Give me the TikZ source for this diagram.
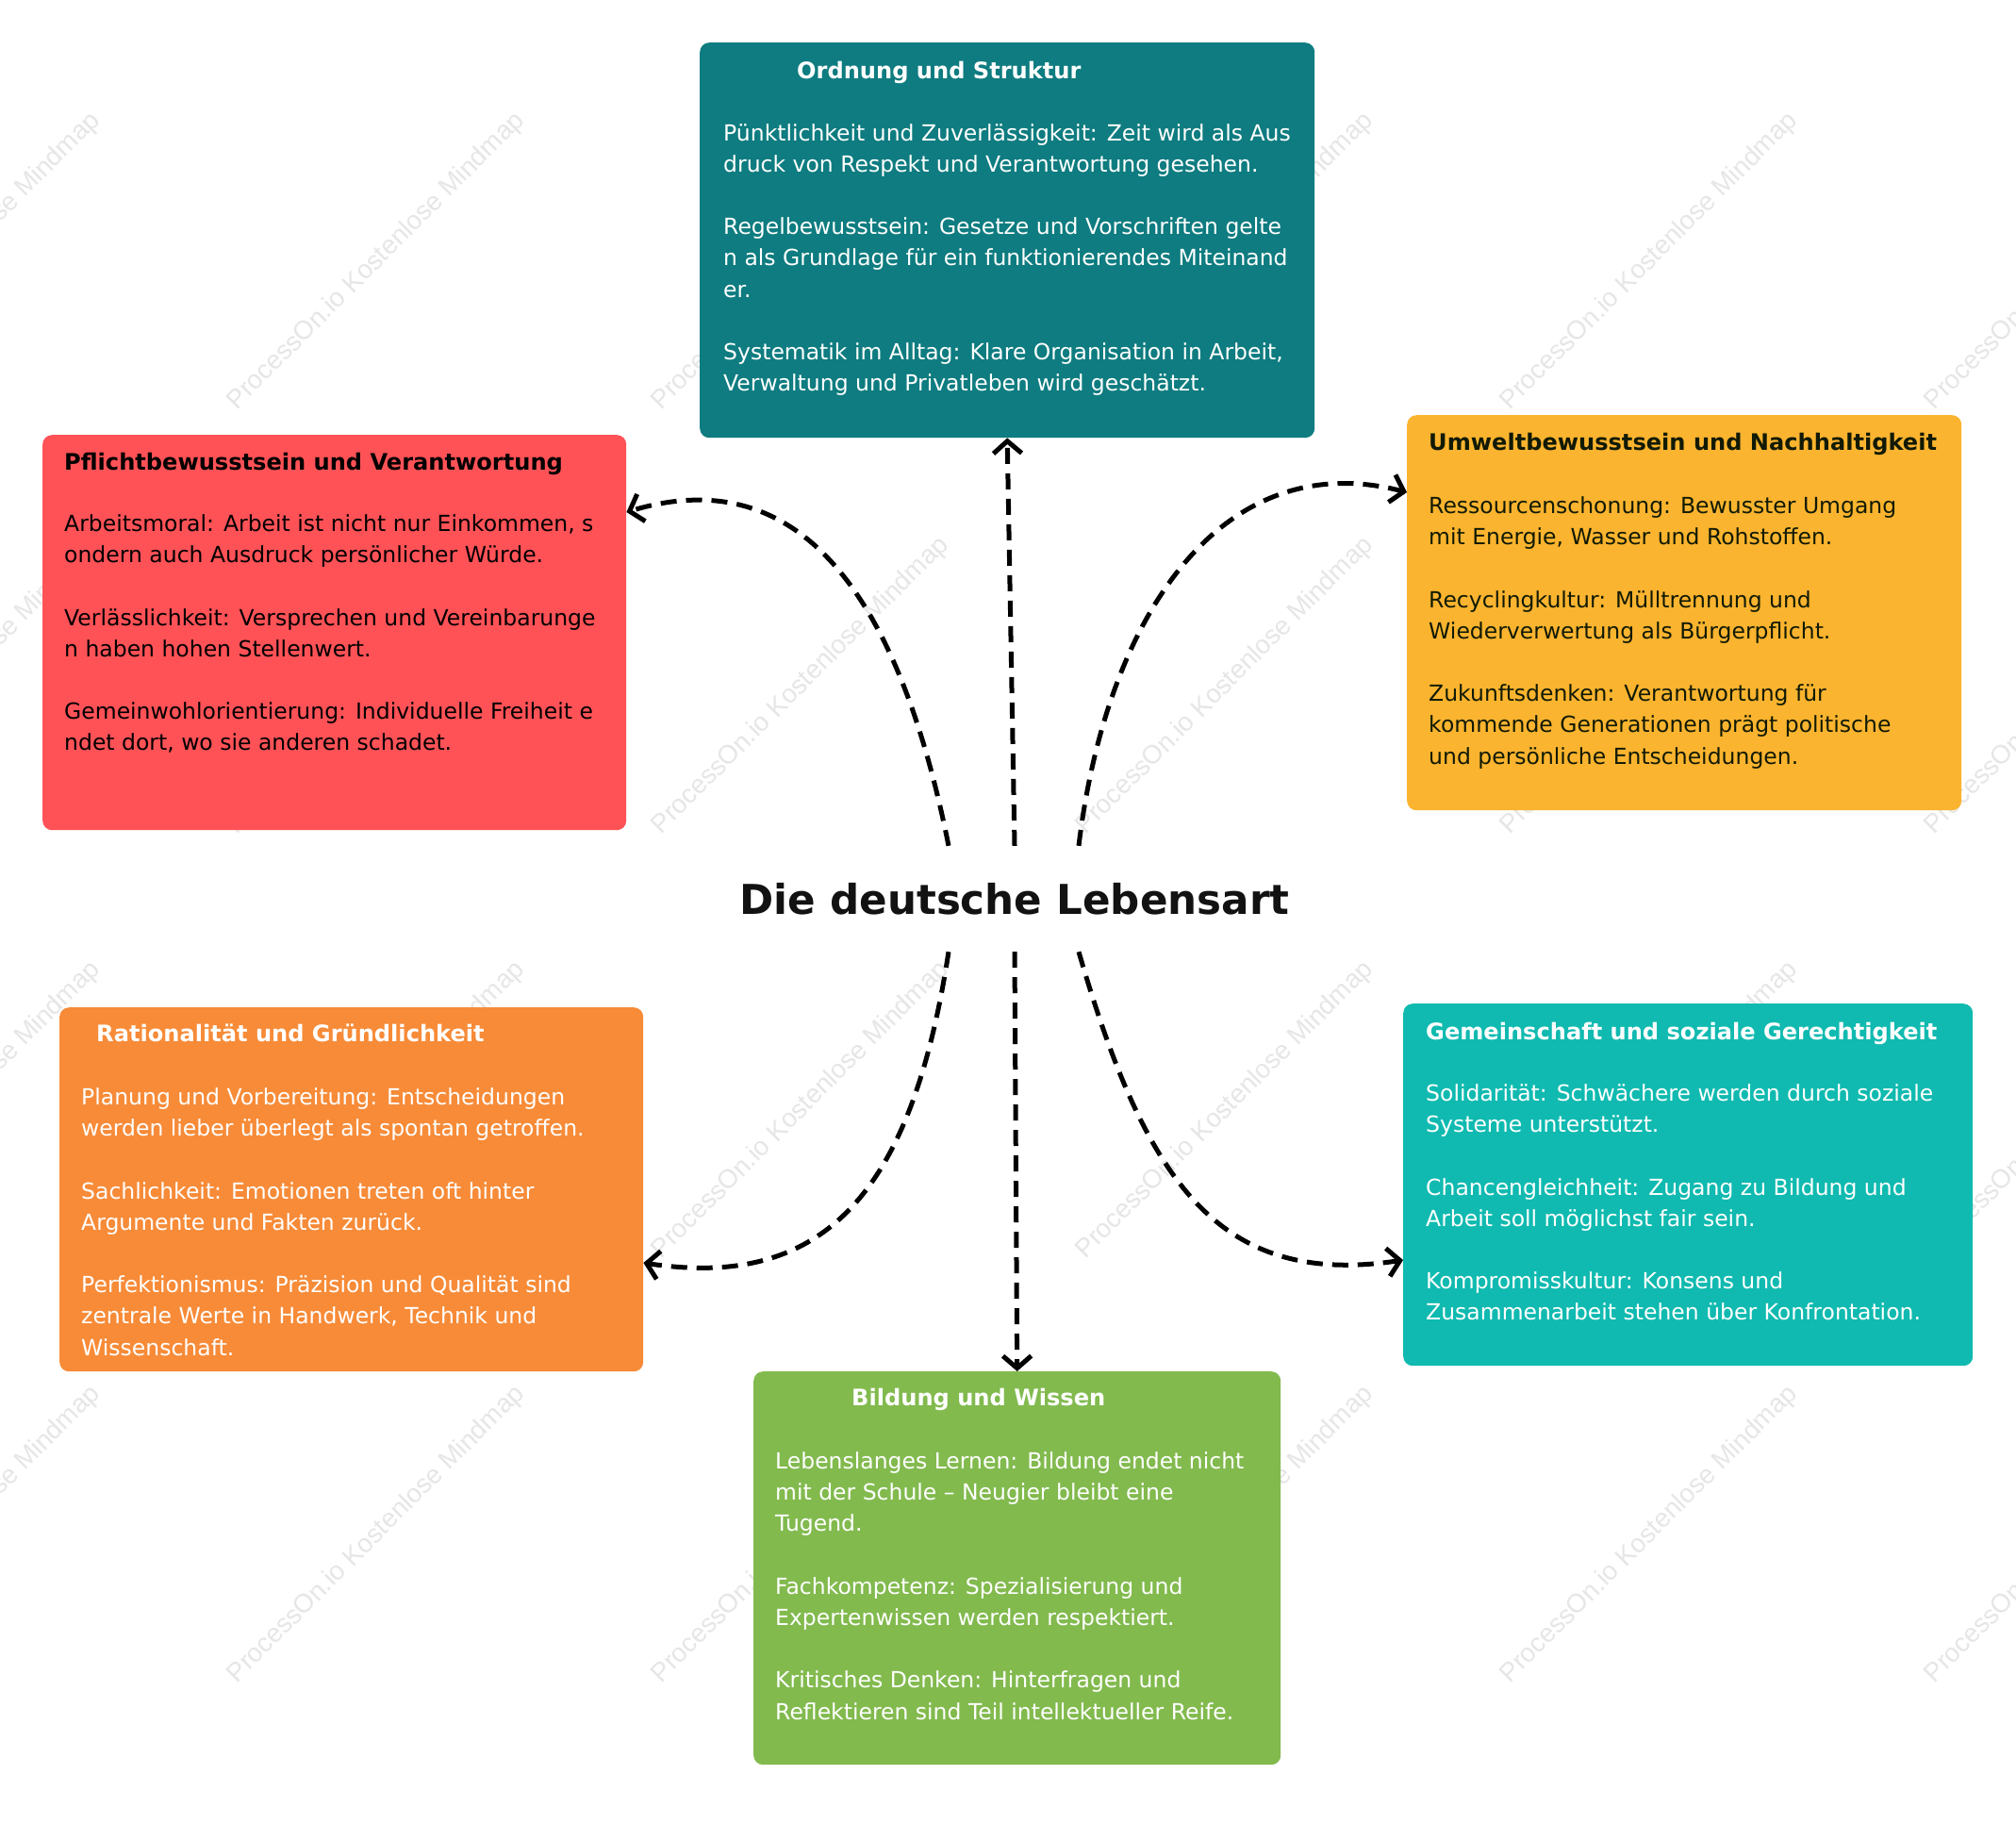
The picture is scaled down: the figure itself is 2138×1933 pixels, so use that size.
\documentclass[tikz,border=0pt]{standalone}
\usepackage{fontspec}
\setmainfont{DejaVu Sans}
\newfontfamily\wmfont{Liberation Sans}
\usetikzlibrary{arrows.meta,calc}
\definecolor{cOrd}{HTML}{0E7C80}
\definecolor{cRed}{HTML}{FF5257}
\definecolor{cYel}{HTML}{FBB42F}
\definecolor{cOra}{HTML}{F78B38}
\definecolor{cTur}{HTML}{10BAB0}
\definecolor{cGre}{HTML}{82BA4E}
\definecolor{cDark}{HTML}{111A05}
\definecolor{cWm}{HTML}{E6E6E6}
\newcommand\mmbody[1]{\parbox[t]{700pt}{\raggedright\fontsize{23.5}{33.2}\selectfont #1}}
\begin{document}
\begin{tikzpicture}[x=1pt,y=-1pt,
  box/.style={rounded corners=10pt, inner sep=0pt, anchor=north west, draw=none},
  ttl/.style={anchor=base west, inner sep=0pt, font=\fontsize{24.1}{28}\selectfont\bfseries},
  bdy/.style={anchor=base west, inner sep=0pt},
  conn/.style={line width=5pt, dash pattern=on 17pt off 10pt, -{Straight Barb[length=13pt,width=30pt]}},
  wm/.style={rotate=45, inner sep=0pt, text=cWm, font=\wmfont\fontsize{27.7}{30}\selectfont}]
\useasboundingbox (0,0) rectangle (2138,1933);
\fill[white] (0,0) rectangle (2138,1933);
% watermark grid
\foreach \k in {0,...,5}{
  \foreach \m in {0,...,3}{
    \node[wm] (wm-\k-\m) at ({-51+450*\k},{277+450*\m}) {ProcessOn.io Kostenlose Mindmap};
  }
}
% boxes
\node[box, fill=cOrd, minimum width=652pt, minimum height=419pt] (ord) at (742,45) {};
\node[box, fill=cRed, minimum width=619pt, minimum height=419pt] (red) at (45,461) {};
\node[box, fill=cYel, minimum width=588pt, minimum height=419pt] (yel) at (1492,440) {};
\node[box, fill=cOra, minimum width=619pt, minimum height=386pt] (ora) at (63,1068) {};
\node[box, fill=cTur, minimum width=604pt, minimum height=384pt] (tur) at (1488,1064) {};
\node[box, fill=cGre, minimum width=559pt, minimum height=417pt] (gre) at (799,1454) {};
% titles
\node[ttl, text=white] (ordT) at (845,83) {Ordnung und Struktur};
\node[ttl, text=black] (redT) at (68,498) {Pflichtbewusstsein und Verantwortung};
\node[ttl, text=cDark] (yelT) at (1515,477.5) {Umweltbewusstsein und Nachhaltigkeit};
\node[ttl, text=white] (oraT) at (102,1104.5) {Rationalität und Gründlichkeit};
\node[ttl, text=white] (turT) at (1512,1102) {Gemeinschaft und soziale Gerechtigkeit};
\node[ttl, text=white] (greT) at (903,1490.5) {Bildung und Wissen};
% bodies
\node[bdy, text=white] (ordB) at (767,149) {\mmbody{Pünktlichkeit und Zuverlässigkeit: Zeit wird als Aus\\druck von Respekt und Verantwortung gesehen.\\[33.2pt]Regelbewusstsein: Gesetze und Vorschriften gelte\\n als Grundlage für ein funktionierendes Miteinand\\er.\\[33.2pt]Systematik im Alltag: Klare Organisation in Arbeit,\\Verwaltung und Privatleben wird geschätzt.}};
\node[bdy, text=black] (redB) at (68,563.5) {\mmbody{Arbeitsmoral: Arbeit ist nicht nur Einkommen, s\\ondern auch Ausdruck persönlicher Würde.\\[33.2pt]Verlässlichkeit: Versprechen und Vereinbarunge\\n haben hohen Stellenwert.\\[33.2pt]Gemeinwohlorientierung: Individuelle Freiheit e\\ndet dort, wo sie anderen schadet.}};
\node[bdy, text=cDark] (yelB) at (1515,544.5) {\mmbody{Ressourcenschonung: Bewusster Umgang\\mit Energie, Wasser und Rohstoffen.\\[33.2pt]Recyclingkultur: Mülltrennung und\\Wiederverwertung als Bürgerpflicht.\\[33.2pt]Zukunftsdenken: Verantwortung für\\kommende Generationen prägt politische\\und persönliche Entscheidungen.}};
\node[bdy, text=white] (oraB) at (86,1171.5) {\mmbody{Planung und Vorbereitung: Entscheidungen\\werden lieber überlegt als spontan getroffen.\\[33.2pt]Sachlichkeit: Emotionen treten oft hinter\\Argumente und Fakten zurück.\\[33.2pt]Perfektionismus: Präzision und Qualität sind\\zentrale Werte in Handwerk, Technik und\\Wissenschaft.}};
\node[bdy, text=white] (turB) at (1512,1167.5) {\mmbody{Solidarität: Schwächere werden durch soziale\\Systeme unterstützt.\\[33.2pt]Chancengleichheit: Zugang zu Bildung und\\Arbeit soll möglichst fair sein.\\[33.2pt]Kompromisskultur: Konsens und\\Zusammenarbeit stehen über Konfrontation.}};
\node[bdy, text=white] (greB) at (822,1557.5) {\mmbody{Lebenslanges Lernen: Bildung endet nicht\\mit der Schule – Neugier bleibt eine\\Tugend.\\[33.2pt]Fachkompetenz: Spezialisierung und\\Expertenwissen werden respektiert.\\[33.2pt]Kritisches Denken: Hinterfragen und\\Reflektieren sind Teil intellektueller Reife.}};
% centre
\node[inner sep=0pt, minimum height=112pt, text=black!93, font=\fontsize{43.6}{50}\selectfont\bfseries] (ctr) at (1076,953) {Die deutsche Lebensart};
% connectors
\draw[conn] ([xshift=-70pt]ctr.north) .. controls +(-50,-250) and +(192,-58) .. ($(red.north east)+(0,82)$);
\draw[conn] (ctr.north) -- (ord.south);
\draw[conn] ([xshift=68pt]ctr.north) .. controls +(30,-248) and +(-194,-50) .. ($(yel.north west)+(0,82)$);
\draw[conn] ([xshift=-70pt]ctr.south) .. controls +(-38,247) and +(198,30) .. ($(ora.north east)+(0,271)$);
\draw[conn] (ctr.south) -- (gre.north);
\draw[conn] ([xshift=68pt]ctr.south) .. controls +(70,240) and +(-198,30) .. ($(tur.north west)+(0,272)$);
\end{tikzpicture}
\end{document}
